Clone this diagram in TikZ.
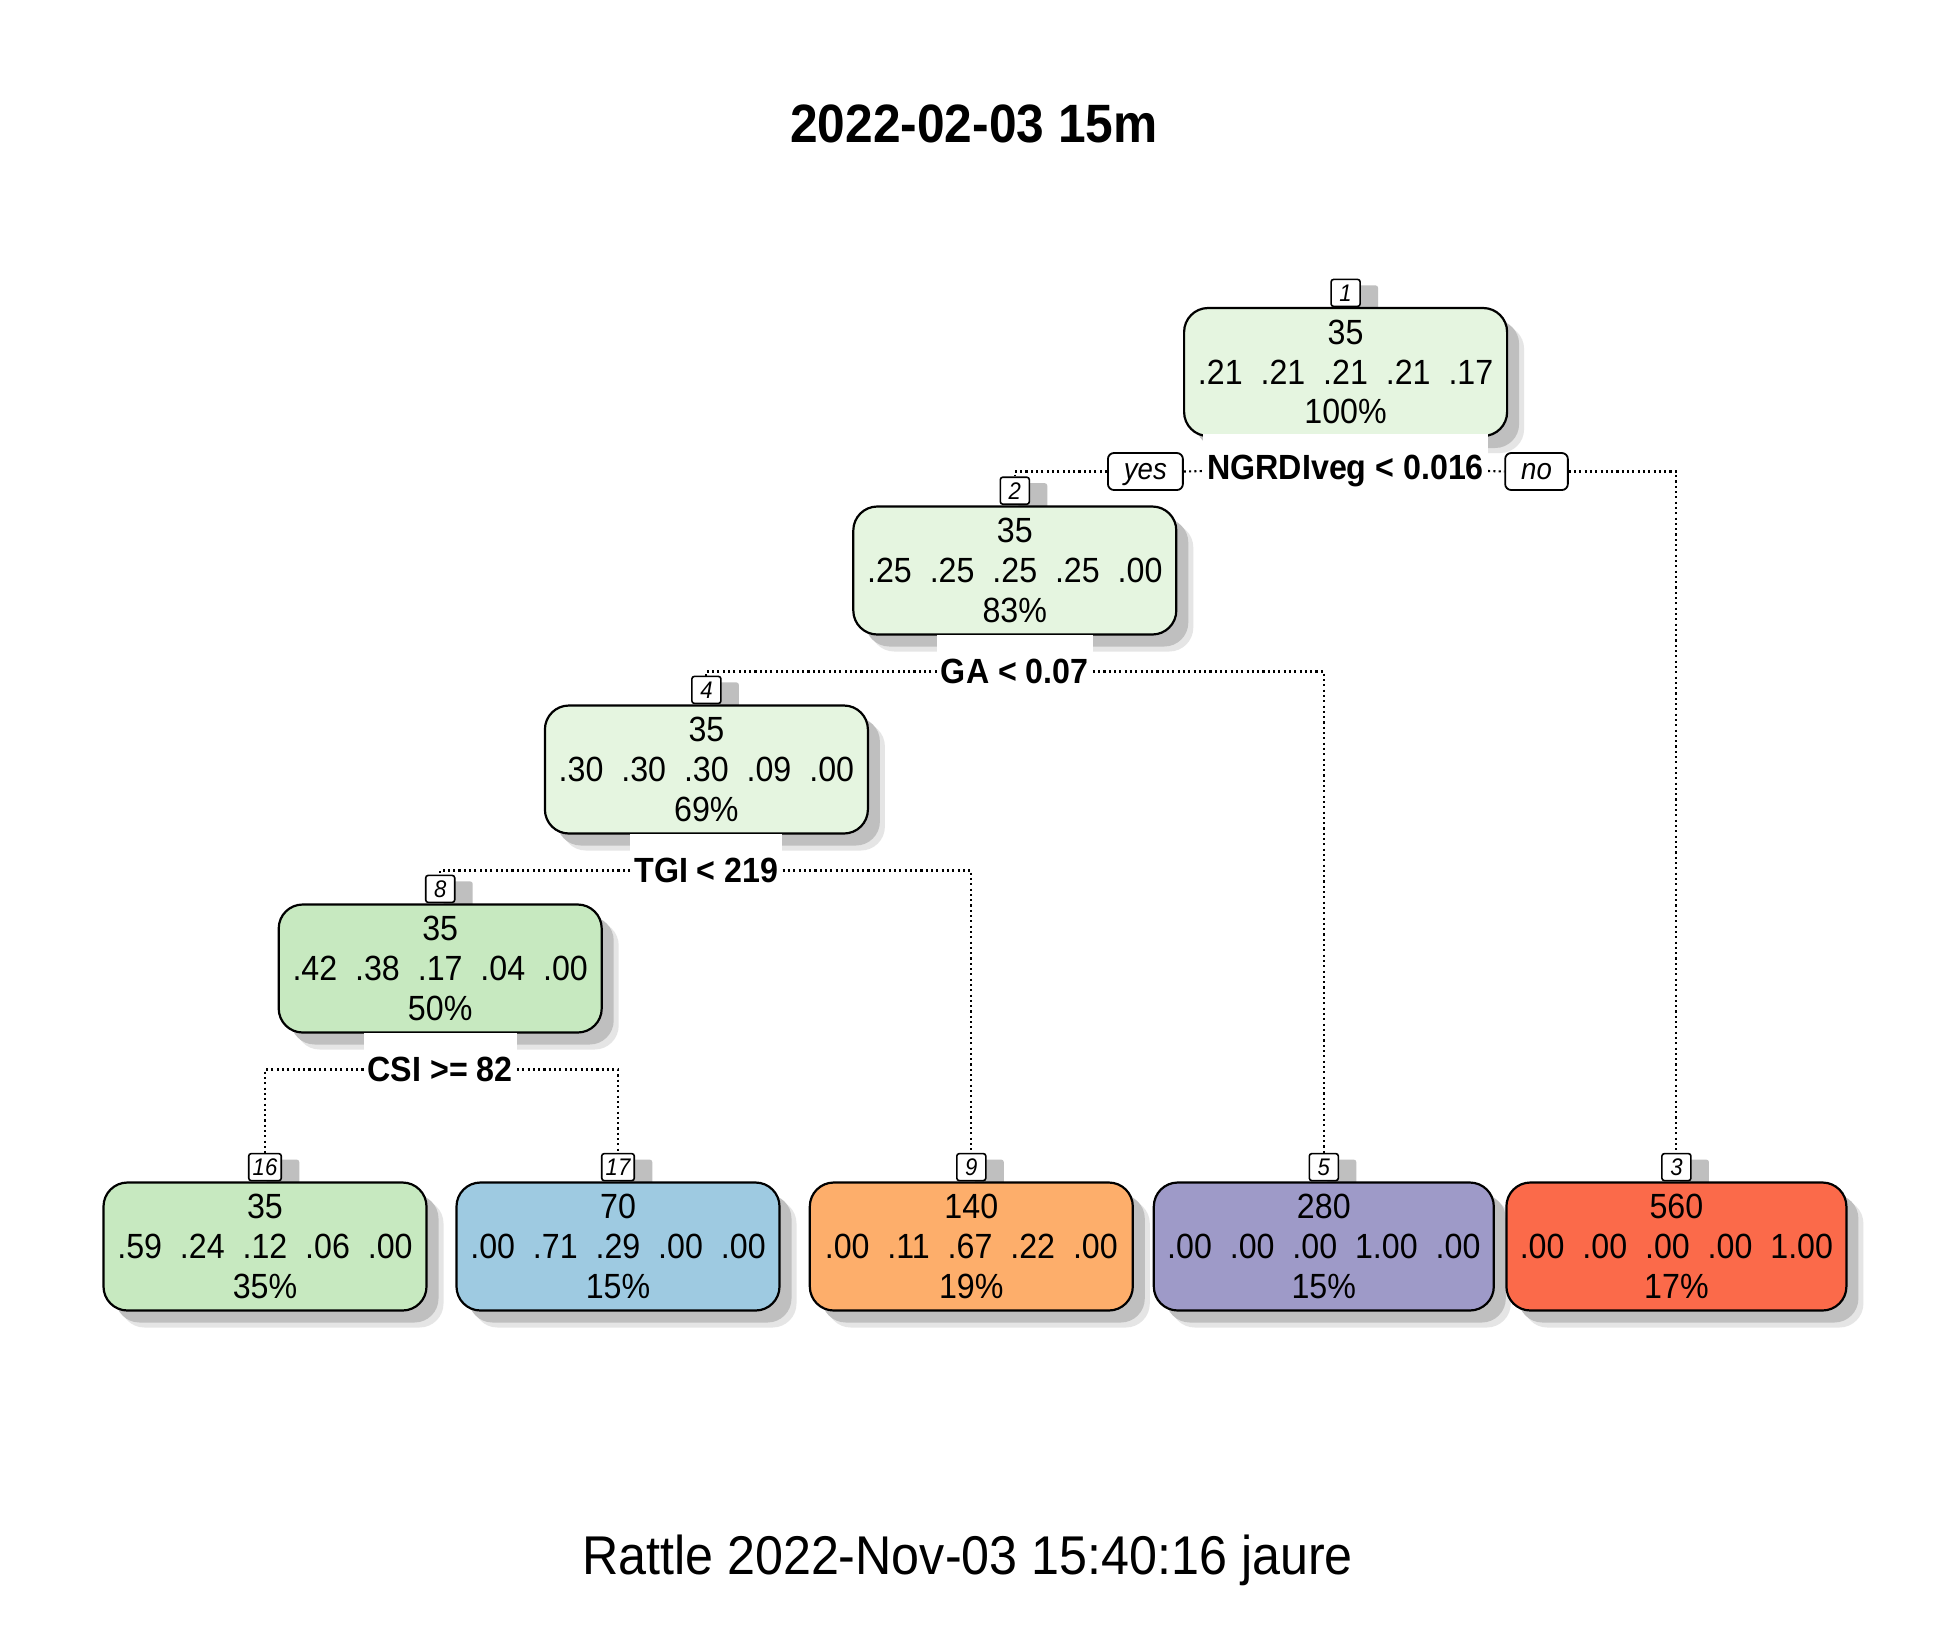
\documentclass[tikz,border=0pt]{standalone}
\usepackage{fontspec}
\setmainfont[FakeStretch=0.92]{Liberation Sans}
\usetikzlibrary{shadows}
\definecolor{gA}{HTML}{E5F5E0}
\definecolor{gB}{HTML}{C7E9C0}
\definecolor{bA}{HTML}{9ECAE1}
\definecolor{oA}{HTML}{FDAE6B}
\definecolor{pA}{HTML}{9E9AC8}
\definecolor{rA}{HTML}{FB6A4A}
\begin{document}
\begin{tikzpicture}[x=1pt,y=-1pt,
  shbig/.style={drop shadow={shadow xshift=17pt,shadow yshift=-17pt,fill=black!10,opacity=1},
                drop shadow={shadow xshift=12pt,shadow yshift=-12pt,fill=black!25,opacity=1}},
  nbox/.style={draw, line width=2.2pt, rounded corners=24pt, minimum width=323pt, minimum height=128pt,
               inner sep=0pt, align=center, font=\fontsize{35}{39.8}\selectfont, shbig},
  widebox/.style={minimum width=340pt},
  numlab/.style={draw, fill=white, line width=1.6pt, rounded corners=2.5pt, minimum height=27pt, minimum width=29pt,
                 inner xsep=4pt, inner ysep=0pt, anchor=south, font=\itshape\fontsize{24}{26}\selectfont,
                 drop shadow={shadow xshift=18pt,shadow yshift=-6pt,fill=black!25,opacity=1}},
  splitlab/.style={fill=white, inner xsep=4pt, inner ysep=0pt, minimum height=74pt,
                   font=\bfseries\fontsize{35}{40}\selectfont},
  yn/.style={draw, fill=white, line width=1.8pt, rounded corners=6pt, minimum height=37pt,
             text height=22pt, text depth=6pt,
             inner xsep=16pt, inner ysep=0pt, font=\itshape\fontsize{30}{32}\selectfont},
  conn/.style={line width=2.1pt, dash pattern=on 2.1pt off 3.2pt}
]
\useasboundingbox[fill=white] (0,0) rectangle (1950,1650);

% title and footer
\node[font=\bfseries\fontsize{54}{60}\selectfont] (title) at (974,124) {2022-02-03 15m};
\node[font=\fontsize{54.6}{60}\selectfont] (footer) at (967.5,1560) {Rattle 2022-Nov-03 15:40:16 jaure};

% node number labels (drawn first, boxes overlap their shadows)
\node[numlab] (l1) at (1345.6,307.2) {1};
\node[numlab] (l2) at (1014.8,505) {2};
\node[numlab] (l4) at (706.4,704.2) {4};
\node[numlab] (l8) at (440.2,903.2) {8};
\node[numlab] (l16) at (265,1181.4) {16};
\node[numlab] (l17) at (618,1181.4) {17};
\node[numlab] (l9) at (971.3,1181.4) {9};
\node[numlab] (l5) at (1323.8,1181.4) {5};
\node[numlab] (l3) at (1676.4,1181.4) {3};

% tree nodes
\node[nbox, fill=gA] (n1) at (1345.6,372) {35\\.21~~.21~~.21~~.21~~.17\\100\%};
\node[nbox, fill=gA] (n2) at (1014.8,570.5) {35\\.25~~.25~~.25~~.25~~.00\\83\%};
\node[nbox, fill=gA] (n4) at (706.4,769.5) {35\\.30~~.30~~.30~~.09~~.00\\69\%};
\node[nbox, fill=gB] (n8) at (440.2,968.5) {35\\.42~~.38~~.17~~.04~~.00\\50\%};
\node[nbox, fill=gB] (n16) at (265,1246.5) {35\\.59~~.24~~.12~~.06~~.00\\35\%};
\node[nbox, fill=bA] (n17) at (618,1246.5) {70\\.00~~.71~~.29~~.00~~.00\\15\%};
\node[nbox, fill=oA] (n9) at (971.3,1246.5) {140\\.00~~.11~~.67~~.22~~.00\\19\%};
\node[nbox, widebox, fill=pA] (n5) at (1323.8,1246.5) {280\\.00~~.00~~.00~~1.00~~.00\\15\%};
\node[nbox, widebox, fill=rA] (n3) at (1676.4,1246.5) {560\\.00~~.00~~.00~~.00~~1.00\\17\%};

% split labels
\node[splitlab] (s1) at (1345.6,471) {NGRDIveg < 0.016};
\node[yn] (yes) at (1145.4,471.5) {yes};
\node[yn] (no) at (1536.5,471.5) {no};
\node[splitlab] (s2) at (1014.8,671.5) {GA < 0.07};
\node[splitlab] (s4) at (706.4,870.5) {TGI < 219};
\node[splitlab] (s8) at (440.2,1069.5) {CSI >= 82};

% connectors
\draw[conn] (yes.west) -| (l2.north);
\draw[conn] (yes.east) -- (s1.west);
\draw[conn] (s1.east) -- (no.west);
\draw[conn] (no.east) -| (l3.north);
\draw[conn] (s2.west) -| (l4.north);
\draw[conn] (s2.east) -| (l5.north);
\draw[conn] (s4.west) -| (l8.north);
\draw[conn] (s4.east) -| (l9.north);
\draw[conn] (s8.west) -| (l16.north);
\draw[conn] (s8.east) -| (l17.north);
\end{tikzpicture}
\end{document}
